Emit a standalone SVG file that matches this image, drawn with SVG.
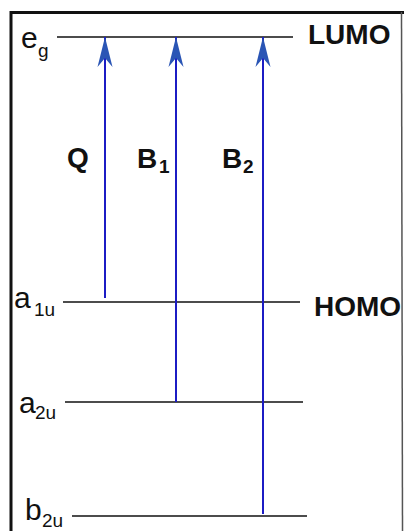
<svg xmlns="http://www.w3.org/2000/svg" width="404" height="531" viewBox="0 0 404 531">
<defs>
<style>
.lvl{stroke:#111;stroke-width:1.7;fill:none}
.tr{stroke:#1c1cc4;stroke-width:2;fill:none;marker-end:url(#ah)}
.lab{font-family:"Liberation Sans",Arial,sans-serif;fill:#111}
.big{font-size:28px}
.lv{font-size:30px}
.sub{font-size:19px}
.bold{font-weight:bold}
</style>
<marker id="ah" markerUnits="userSpaceOnUse" viewBox="-31 -8 32 16" refX="0" refY="0" markerWidth="32" markerHeight="16" orient="auto">
<path d="M0,0 L-30,-7.5 L-21,0 L-30,7.5 Z" fill="#2a55b5"/>
</marker>
</defs>
<rect width="404" height="531" fill="#fff"/>
<g id="frame">
<line x1="11" y1="11" x2="11" y2="531" stroke="#111" stroke-width="3"/>
<line x1="10" y1="12.5" x2="404" y2="12.5" stroke="#111" stroke-width="3"/>
<line x1="401.5" y1="12" x2="402.5" y2="531" stroke="#555" stroke-width="1.5"/>
</g>
<g id="eg">
<line class="lvl" x1="57" y1="37" x2="293" y2="37"/>
<text class="lab lv" x="21" y="48">e</text>
<text class="lab sub" x="38" y="57">g</text>
<text class="lab big bold" x="308" y="44">LUMO</text>
</g>
<g id="a1u">
<line class="lvl" x1="63" y1="302" x2="300" y2="302"/>
<text class="lab lv" x="14" y="308">a</text>
<text class="lab sub" x="34" y="316">1u</text>
<text class="lab big bold" x="314" y="316">HOMO</text>
</g>
<g id="a2u">
<line class="lvl" x1="65" y1="402" x2="303" y2="402"/>
<text class="lab lv" x="19" y="413">a</text>
<text class="lab sub" x="35" y="419">2u</text>
</g>
<g id="b2u">
<line class="lvl" x1="72" y1="516" x2="307" y2="516"/>
<text class="lab lv" x="25" y="520">b</text>
<text class="lab sub" x="42" y="527">2u</text>
</g>
<g id="labels">
<text class="lab big bold" x="67" y="167">Q</text>
<text class="lab big bold" x="137" y="168">B</text>
<text class="lab sub bold" x="159" y="173">1</text>
<text class="lab big bold" x="222" y="168">B</text>
<text class="lab sub bold" x="243" y="173">2</text>
</g>
<g id="connectors">
<line class="tr" x1="105" y1="298" x2="105" y2="37"/>
<line class="tr" x1="176" y1="402" x2="176" y2="37"/>
<line class="tr" x1="263" y1="514" x2="263" y2="37"/>
</g>
</svg>
